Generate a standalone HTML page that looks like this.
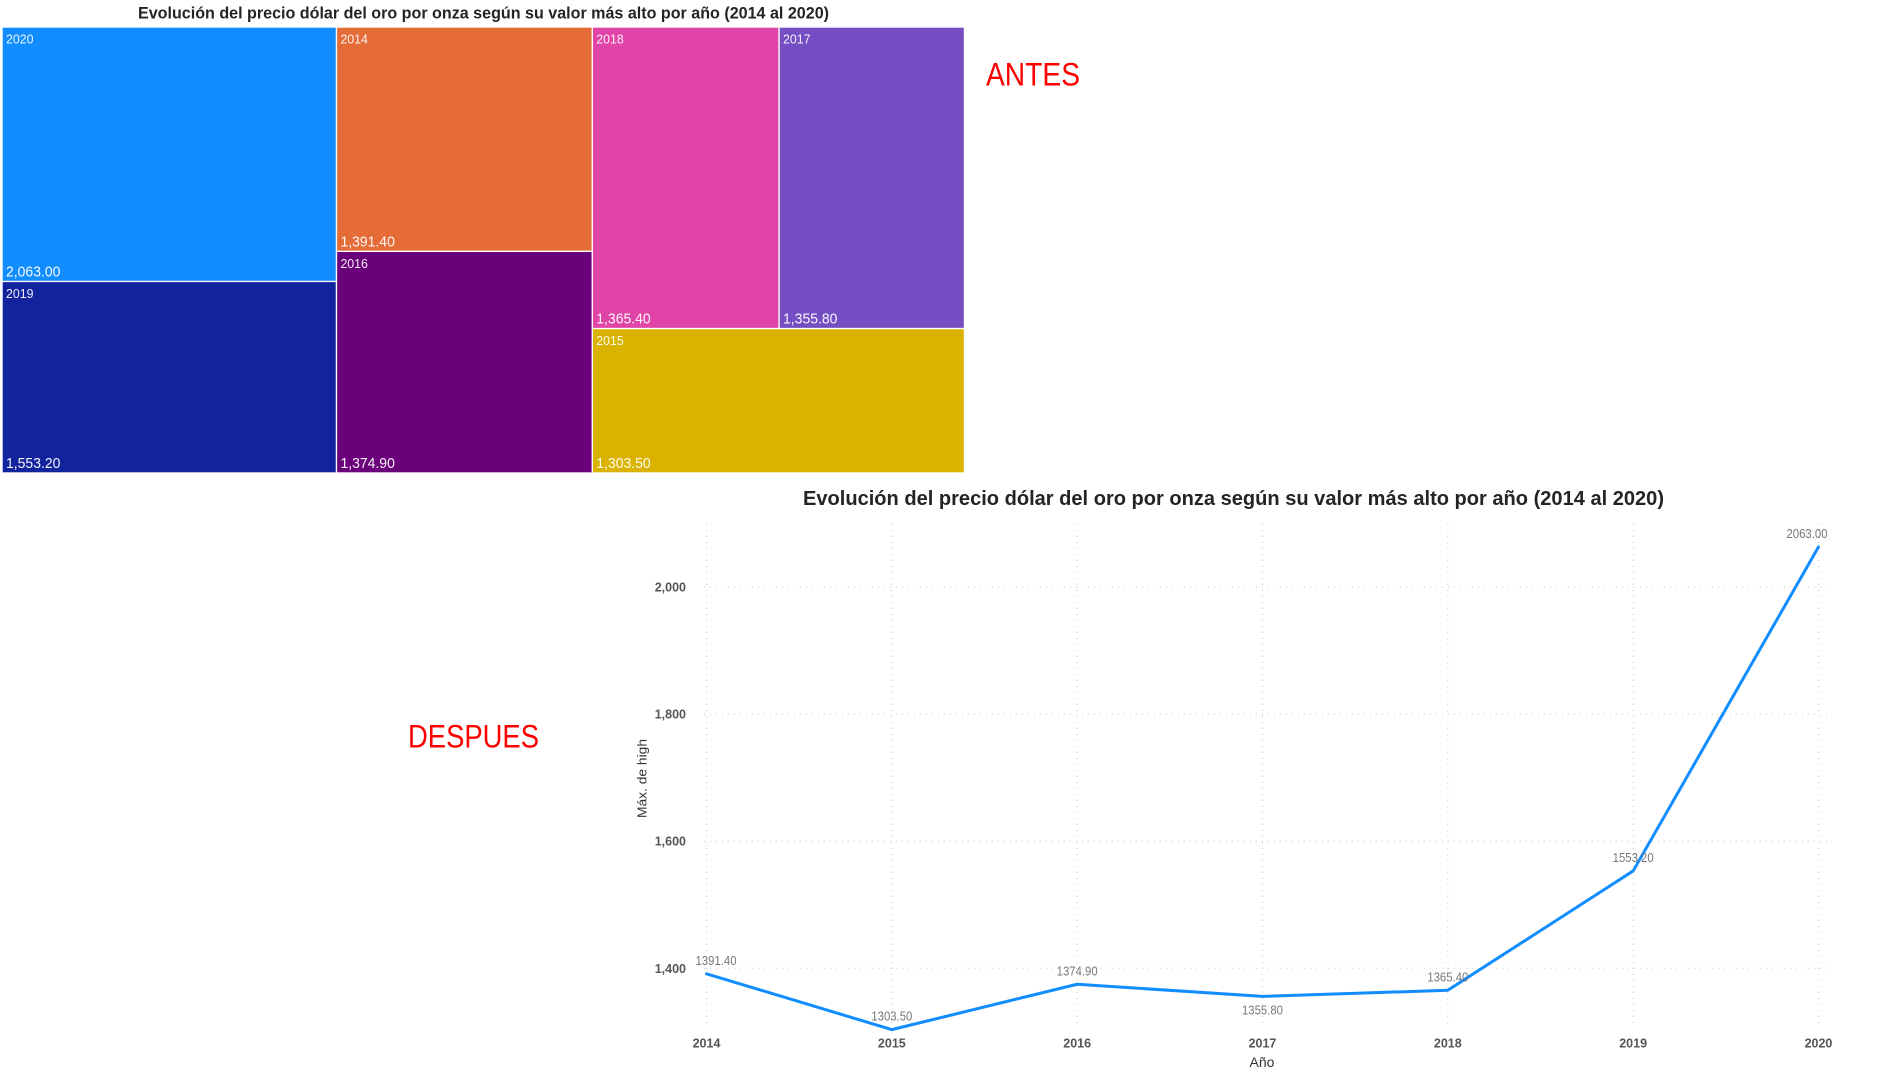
<!DOCTYPE html>
<html lang="es">
<head>
<meta charset="utf-8">
<title>Evolución del precio dólar del oro</title>
<style>
html,body{margin:0;padding:0;background:#fff;width:1890px;height:1069px;overflow:hidden}
svg{display:block;font-family:"Liberation Sans",sans-serif}
</style>
</head>
<body>
<svg id="canvas" xmlns="http://www.w3.org/2000/svg" width="1890" height="1069" viewBox="0 0 1890 1069">
  <text x="138" y="18.5" font-size="17" font-weight="700" fill="#252423" textLength="691" lengthAdjust="spacingAndGlyphs">Evolución del precio dólar del oro por onza según su valor más alto por año (2014 al 2020)</text>
  <g id="treemap"></g>
  <text x="986" y="85.5" font-size="32" fill="#ff0000" textLength="94" lengthAdjust="spacingAndGlyphs">ANTES</text>
  <text x="803" y="505" font-size="20.5" font-weight="700" fill="#252423" textLength="861" lengthAdjust="spacingAndGlyphs">Evolución del precio dólar del oro por onza según su valor más alto por año (2014 al 2020)</text>
  <text x="408" y="747.5" font-size="32" fill="#ff0000" textLength="131" lengthAdjust="spacingAndGlyphs">DESPUES</text>
  <g id="line-chart"></g>
  <text transform="translate(646.5 778.5) rotate(-90)" text-anchor="middle" font-size="13" fill="#333" textLength="79" lengthAdjust="spacingAndGlyphs">Máx. de high</text>
  <text x="1262" y="1067" text-anchor="middle" font-size="14" fill="#333">Año</text>
</svg>
<script>
const years = [2014, 2015, 2016, 2017, 2018, 2019, 2020];
const highValues = [1391.4, 1303.5, 1374.9, 1355.8, 1365.4, 1553.2, 2063.0];
const yTickValues = [1400, 1600, 1800, 2000];
const labelBelow = [false, false, false, true, false, false, false];
const tileColors = ['#E66C37', '#D9B300', '#6B007B', '#744EC2', '#E044A7', '#12239E', '#118DFF'];
const treemapColumns = [
  [[2020], [2019]],
  [[2014], [2016]],
  [[2018, 2017], [2015]]
];

const NS = 'http://www.w3.org/2000/svg';
function svgEl(tag, attrs, parent, text) {
  const el = document.createElementNS(NS, tag);
  for (const k in attrs) el.setAttribute(k, attrs[k]);
  if (text !== undefined) el.textContent = text;
  parent.appendChild(el);
  return el;
}

/* ---------- treemap ---------- */
const tmBox = { x: 2, y: 27, w: 962.5, h: 446 };
const tmGroup = document.getElementById('treemap');
const valueOf = y => highValues[years.indexOf(y)];
const colorOf = y => tileColors[years.indexOf(y)];
const sumOf = list => list.reduce((a, y) => a + valueOf(y), 0);
const grandTotal = years.reduce((a, y) => a + valueOf(y), 0);
const money = v => v.toLocaleString('en-US', { minimumFractionDigits: 2, maximumFractionDigits: 2 });

let colX = tmBox.x;
treemapColumns.forEach(col => {
  const colTotal = col.reduce((a, row) => a + sumOf(row), 0);
  const colW = tmBox.w * colTotal / grandTotal;
  let rowY = tmBox.y;
  col.forEach(row => {
    const rowTotal = sumOf(row);
    const rowH = tmBox.h * rowTotal / colTotal;
    let tileX = colX;
    row.forEach(year => {
      const tileW = colW * valueOf(year) / rowTotal;
      const tile = svgEl('rect', { x: tileX + 0.7, y: rowY + 0.7, width: tileW - 1.4, height: rowH - 1.4, fill: colorOf(year) }, tmGroup);
      
      
      const nameLabel = svgEl('text', { x: tileX + 4, y: rowY + 16.5, 'font-size': 12.5, fill: '#fff', 'fill-opacity': 0.92, textLength: 27.5, lengthAdjust: 'spacingAndGlyphs' }, tmGroup, String(year));
      
      
      const moneyText = money(valueOf(year));
      const valueLabel = svgEl('text', { x: tileX + 4, y: rowY + rowH - 5, 'font-size': 15, fill: '#fff', 'fill-opacity': 0.95, textLength: moneyText.length * 6.8, lengthAdjust: 'spacingAndGlyphs' }, tmGroup, moneyText);
      
      
      tileX += tileW;
    });
    rowY += rowH;
  });
  colX += colW;
});

/* ---------- line chart ---------- */
const plot = { left: 704, right: 1828, top: 524, bottom: 1028 };
const xFirst = 706.5, xStep = 185.33;
const yRef = 2000, yRefPx = 587, pxPerUnit = 0.6355;
const xScale = i => xFirst + i * xStep;
const yScale = v => yRefPx + (yRef - v) * pxPerUnit;
const lc = document.getElementById('line-chart');

yTickValues.forEach(t => {
  const grid = svgEl('line', { x1: plot.left, x2: plot.right, y1: yScale(t), y2: yScale(t), stroke: '#c8c8c8', 'stroke-width': 1, 'stroke-dasharray': '1 5' }, lc);
  
  
  const tick = svgEl('text', { x: 686, y: yScale(t) + 4.5, 'text-anchor': 'end', 'font-size': 12.5, 'font-weight': 700, fill: '#555' }, lc, t.toLocaleString('en-US'));
  
  
});

years.forEach((y, i) => {
  const grid = svgEl('line', { x1: xScale(i), x2: xScale(i), y1: plot.top, y2: plot.bottom, stroke: '#c8c8c8', 'stroke-width': 1, 'stroke-dasharray': '1 5' }, lc);
  
  
  const tick = svgEl('text', { x: xScale(i), y: 1047.5, 'text-anchor': 'middle', 'font-size': 12.5, 'font-weight': 700, fill: '#555' }, lc, String(y));
  
  
});

const series = svgEl('polyline', {
  points: highValues.map((v, i) => xScale(i) + ',' + yScale(v)).join(' '),
  fill: 'none', stroke: '#118DFF', 'stroke-width': 3, 'stroke-linejoin': 'round', 'stroke-linecap': 'round'
}, lc);



highValues.forEach((v, i) => {
  const cx = Math.min(Math.max(xScale(i), plot.left + 12), plot.right - 21);
  const ly = yScale(v) + (labelBelow[i] ? 18 : -9);
  const label = svgEl('text', { x: cx, y: ly, 'text-anchor': 'middle', 'font-size': 12.5, fill: '#777', textLength: 41, lengthAdjust: 'spacingAndGlyphs' }, lc, v.toFixed(2));
  
  
});
</script>
</body>
</html>
